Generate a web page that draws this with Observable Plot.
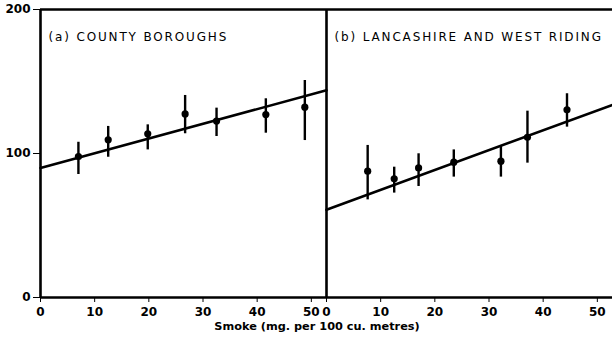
<!DOCTYPE html>
<html>
<head>
<meta charset="utf-8">
<script src="https://cdn.jsdelivr.net/npm/d3@7"></script>
<script src="https://cdn.jsdelivr.net/npm/@observablehq/plot@0.6"></script>
<style>
  html, body { margin: 0; padding: 0; background: #fff; }
  #chart svg { display: block; }
  #chart svg [aria-label^="x-axis"] line,
  #chart svg [aria-label^="y-axis"] line { stroke-width: 2; }
  #chart svg [aria-label^="x-axis"] text,
  #chart svg [aria-label^="y-axis"] text { font-weight: bold; font-size: 12px; }
  #chart svg g[aria-label="text"] text { letter-spacing: 1.85px; }
  #xlabel { font-family: "DejaVu Sans", sans-serif; font-weight: bold; font-size: 11.3px; line-height: 14px;
            text-align: center; width: 612px; padding-left: 22px; box-sizing: border-box; margin-top: -2px; }
</style>
</head>
<body>
<div id="chart"></div>
<div id="xlabel">Smoke (mg. per 100 cu. metres)</div>
<script>
// Panel names
const panels = ["a", "b"];
const panelTitles = ["(a) COUNTY BOROUGHS", "(b) LANCASHIRE AND WEST RIDING"];

// (a) County boroughs
const countyX  = [7.0, 12.5, 19.8, 26.7, 32.5, 41.6, 48.8];
const countyY  = [97.9, 109.5, 113.7, 127.5, 122.5, 127.0, 132.2];
const countyLo = [85.4, 97.4, 102.5, 113.7, 111.8, 114.1, 109.0];
const countyHi = [107.8, 118.8, 119.9, 140.3, 131.5, 138.0, 150.7];

// (b) Lancashire and West Riding
const lancX  = [7.6, 12.5, 17.0, 23.5, 32.2, 37.1, 44.4];
const lancY  = [87.7, 82.4, 90.0, 94.0, 94.7, 111.3, 130.3];
const lancLo = [67.8, 72.5, 77.1, 83.6, 83.6, 93.3, 118.3];
const lancHi = [105.6, 90.5, 99.8, 102.5, 104.9, 129.4, 141.5];

// Fitted regression lines: intercept and slope
const lineIntercept = [90.0, 60.9];
const lineSlope = [1.02, 1.38];

// Axes
const xMax = 52.8;
const xTicks = [0, 10, 20, 30, 40, 50];
const yTicks = [0, 100, 200];

const points = [
  ...countyX.map((x, i) => ({panel: "a", x, y: countyY[i], lo: countyLo[i], hi: countyHi[i]})),
  ...lancX.map((x, i) => ({panel: "b", x, y: lancY[i], lo: lancLo[i], hi: lancHi[i]}))
];
const fits = panels.flatMap((p, i) => [0, xMax].map(x => ({panel: p, x, y: lineIntercept[i] + lineSlope[i] * x})));
const titles = panels.map((p, i) => ({panel: p, text: panelTitles[i]}));

const chart = Plot.plot({
  width: 612,
  height: 322,
  marginLeft: 39,
  marginRight: 0,
  marginTop: 9,
  marginBottom: 25,
  style: {fontFamily: "DejaVu Sans, sans-serif", color: "#000", background: "#fff"},
  fx: {domain: panels, axis: null, paddingInner: 0, paddingOuter: 0},
  x: {domain: [0, xMax], ticks: xTicks, tickSize: 5, tickPadding: 5, label: null},
  y: {domain: [0, 200], ticks: yTicks, tickSize: 7, tickPadding: 3, label: null},
  facet: {data: points, x: "panel"},
  marks: [
    Plot.ruleY([0, 200], {stroke: "#000", strokeWidth: 2.5}),
    Plot.ruleX([0], {stroke: "#000", strokeWidth: 2.6}),
    Plot.line(fits, {x: "x", y: "y", fx: "panel", z: "panel", stroke: "#000", strokeWidth: 2.6}),
    Plot.ruleX(points, {x: "x", y1: "lo", y2: "hi", stroke: "#000", strokeWidth: 2.4}),
    Plot.dot(points, {x: "x", y: "y", r: 3.6, fill: "#000", stroke: "none"}),
    Plot.text(titles, {fx: "panel", text: "text", frameAnchor: "top-left", dx: 8, dy: 28,
      textAnchor: "start", lineAnchor: "middle", fontSize: 12, fill: "#000"})
  ]
});
document.getElementById("chart").append(chart);
</script>
</body>
</html>
